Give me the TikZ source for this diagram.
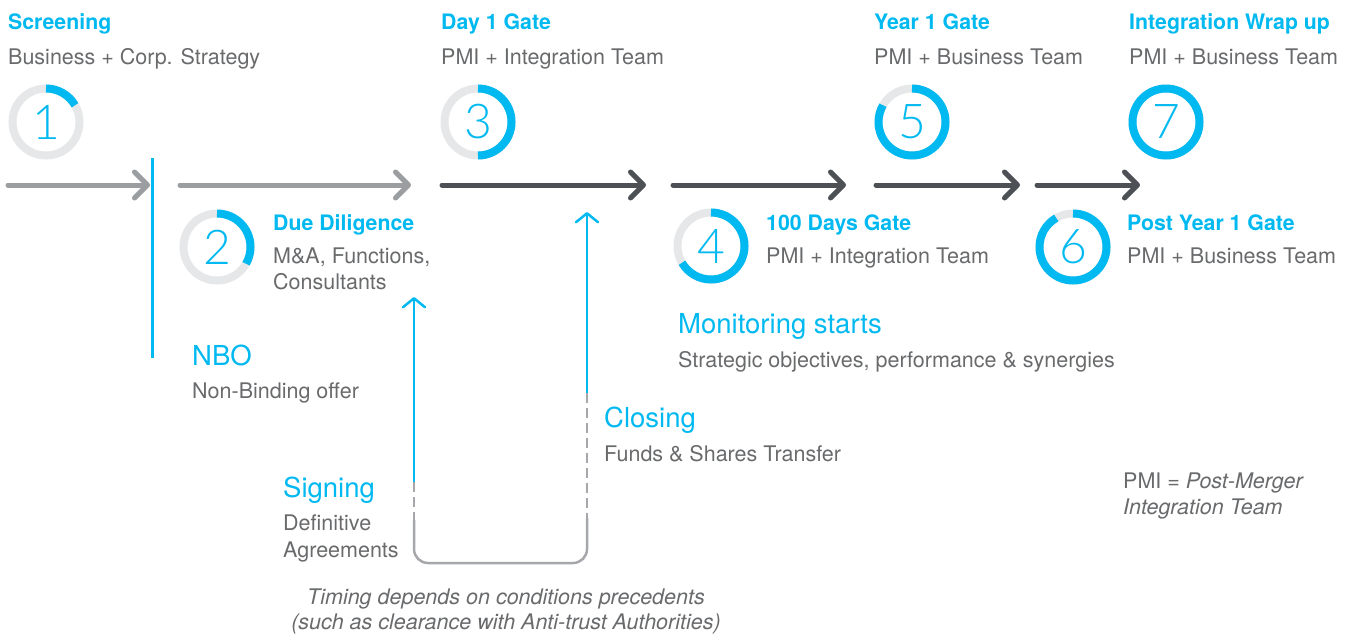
\documentclass[tikz,border=0pt]{standalone}
\usepackage{fontspec}
\setmainfont{TeX Gyre Heros}
\newfontfamily\thinfont{Lato Light}
\usetikzlibrary{arrows.meta,calc}
\definecolor{cblue}{RGB}{0,185,240}
\definecolor{ctext}{RGB}{105,106,108}
\definecolor{cring}{RGB}{230,231,232}
\definecolor{carrowlight}{RGB}{155,158,161}
\definecolor{carrowdark}{RGB}{77,81,86}
\definecolor{cloop}{RGB}{165,167,170}
\newcommand{\progressring}[2]{%
  \draw[cring, line width=8pt] (#1.center) circle[radius=33.5];
  \draw[cblue, line width=8pt] ($(#1.center)+(-90:33.5)$) arc[start angle=-90, end angle=-90+#2, radius=33.5];}
\begin{document}
\begin{tikzpicture}[x=1pt,y=-1pt,
  title/.style={anchor=base west, inner sep=0pt, font=\fontsize{21.3}{24}\selectfont\bfseries, text=cblue},
  body/.style={anchor=base west, inner sep=0pt, font=\fontsize{21.5}{24}\selectfont, text=ctext},
  bodyit/.style={anchor=base west, inner sep=0pt, font=\fontsize{21.5}{24}\selectfont\itshape, text=ctext},
  big/.style={anchor=base west, inner sep=0pt, font=\fontsize{27.5}{30}\selectfont, text=cblue},
  num/.style={circle, inner sep=0pt, minimum size=67pt, font=\thinfont\fontsize{48}{52}\selectfont, text=cblue},
  mainarrow/.style={line width=5pt, line cap=round, -{Straight Barb[length=13pt,width=26pt,round]}},
  bluearrow/.style={cblue, line width=2.5pt, -{Straight Barb[length=9pt,width=22pt,round]}},
  loopline/.style={cloop, line width=2.5pt}
]
\useasboundingbox (0,0) rectangle (1348,634);

% progress circles
\node[num] (c1) at (46,122) {1};
\node[num] (c2) at (217,247) {2};
\node[num] (c3) at (478,122) {3};
\node[num] (c4) at (711,246) {4};
\node[num] (c5) at (912,122) {5};
\node[num] (c6) at (1073,247) {6};
\node[num] (c7) at (1166,122) {7};
\progressring{c1}{60}
\progressring{c2}{120}
\progressring{c3}{180}
\progressring{c4}{240}
\progressring{c5}{300}
\progressring{c6}{330}
\progressring{c7}{360}

% main timeline arrows
\coordinate (s1) at (8,185);    \coordinate (e1) at (150,185);
\coordinate (s2) at (180,185);  \coordinate (e2) at (411,185);
\coordinate (s3) at (442,185);  \coordinate (e3) at (646,185);
\coordinate (s4) at (673,185);  \coordinate (e4) at (846,185);
\coordinate (s5) at (876,185);  \coordinate (e5) at (1020,185);
\coordinate (s6) at (1037,185); \coordinate (e6) at (1140,185);
\draw[mainarrow, carrowlight] (s1) -- (e1);
\draw[mainarrow, carrowlight] (s2) -- (e2);
\draw[mainarrow, carrowdark] (s3) -- (e3);
\draw[mainarrow, carrowdark] (s4) -- (e4);
\draw[mainarrow, carrowdark] (s5) -- (e5);
\draw[mainarrow, carrowdark] (s6) -- (e6);

% NBO marker
\coordinate (nt) at (152,158); \coordinate (nb) at (152,358);
\draw[cblue, line width=3pt] (nt) -- (nb);

% signing / closing loop
\coordinate (sg) at (414,482);  \coordinate (sgtip) at (414,297);
\coordinate (sgd) at (414,520); \coordinate (lb) at (414,563);
\coordinate (cl) at (587,393);  \coordinate (cltip) at (587,212);
\coordinate (cld) at (587,518); \coordinate (rb) at (587,563);
\draw[bluearrow] (sg) -- (sgtip);
\draw[bluearrow] (cl) -- (cltip);
\draw[loopline, dash pattern=on 10pt off 5pt] (sg) -- (sgd);
\draw[loopline, dash pattern=on 10pt off 5pt] (cl) -- (cld);
\draw[loopline, rounded corners=14pt] (sgd) -- (lb) -- (rb) -- (cld);

% texts
\node[title] (t1) at (8,30) {Screening};
\node[body] (b1) at (8,64) {Business + Corp. Strategy};
\node[title] (t3) at (441,30) {Day 1 Gate};
\node[body] (b3) at (441,64) {PMI + Integration Team};
\node[title] (t5) at (874,30) {Year 1 Gate};
\node[body] (b5) at (874,64) {PMI + Business Team};
\node[title] (t7) at (1129,30) {Integration Wrap up};
\node[body] (b7) at (1129,64) {PMI + Business Team};
\node[title] (t2) at (273,230) {Due Diligence};
\node[body] (b2a) at (273,263) {M\&A, Functions,};
\node[body] (b2b) at (273,289) {Consultants};
\node[title] (t4) at (766,230) {100 Days Gate};
\node[body] (b4) at (766,263) {PMI + Integration Team};
\node[title] (t6) at (1127,230) {Post Year 1 Gate};
\node[body] (b6) at (1127,263) {PMI + Business Team};
\node[big] (nbo) at (192,365) {NBO};
\node[body] (nbob) at (192,398) {Non-Binding offer};
\node[big] (mon) at (678,333) {Monitoring starts};
\node[body] (monb) at (678,367) {Strategic objectives, performance \& synergies};
\node[big] (clo) at (604,427) {Closing};
\node[body] (clob) at (604,461) {Funds \& Shares Transfer};
\node[big] (sig) at (283,497) {Signing};
\node[body] (sigb1) at (283,530) {Definitive};
\node[body] (sigb2) at (283,557) {Agreements};
\node[body] (pmi1) at (1123,488) {PMI = \textit{Post-Merger}};
\node[bodyit] (pmi2) at (1123,514) {Integration Team};
\node[bodyit, anchor=base] (tm1) at (506,604) {Timing depends on conditions precedents};
\node[bodyit, anchor=base] (tm2) at (506,629) {(such as clearance with Anti-trust Authorities)};
\end{tikzpicture}
\end{document}
